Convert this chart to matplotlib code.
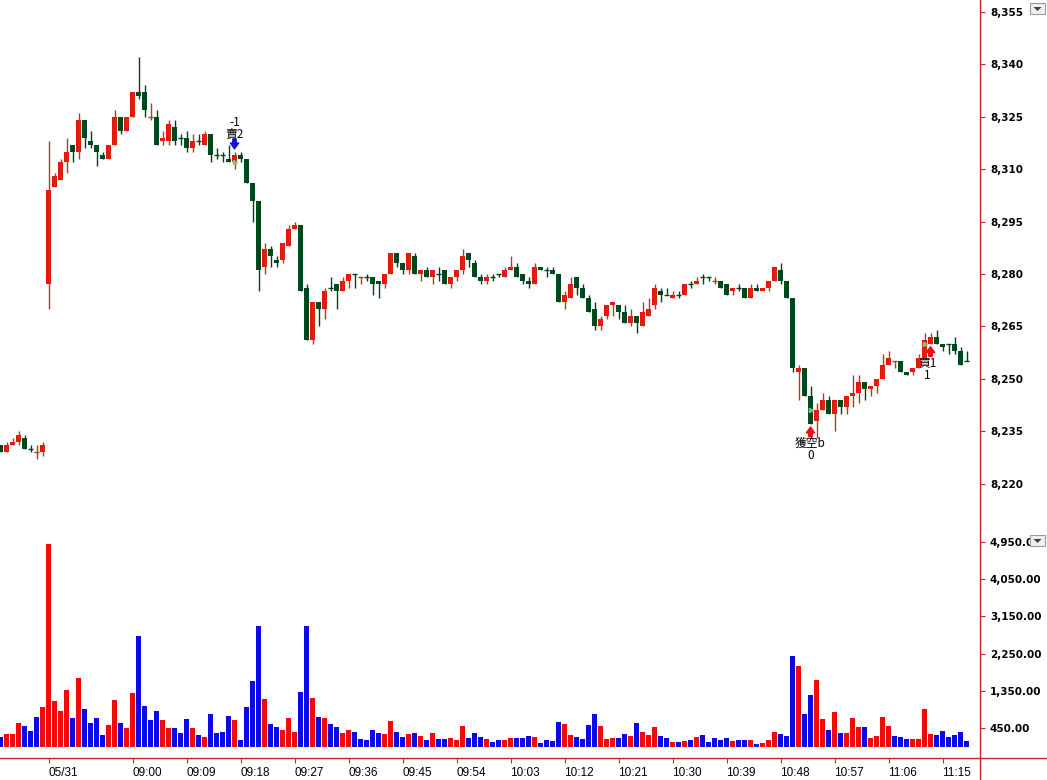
import matplotlib
matplotlib.use("Agg")
import matplotlib.pyplot as plt
from matplotlib.lines import Line2D
from matplotlib.patches import Rectangle, Polygon
import numpy as np

# 1-minute bars: last 8 bars of 05/30, then 05/31 from 08:46
opens = [8231, 8229, 8231, 8232, 8233, 8230, 8229, 8229,
         8277, 8305, 8307, 8312, 8317, 8315, 8324, 8318, 8317, 8314,
         8313, 8317, 8325, 8321, 8325, 8332, 8332, 8325, 8325, 8318,
         8318, 8322, 8319, 8319, 8316, 8318, 8317, 8320, 8314, 8314,
         8313, 8312, 8314, 8313, 8306, 8301, 8282, 8287, 8284, 8284,
         8288, 8293, 8294, 8276, 8261, 8272, 8270, 8276, 8277, 8275,
         8278, 8280, 8279, 8279, 8279, 8278, 8277, 8280, 8286, 8283,
         8281, 8285, 8280, 8281, 8279, 8280, 8281, 8277, 8279, 8281,
         8286, 8283, 8279, 8278, 8279, 8280, 8279, 8281, 8282, 8280,
         8278, 8277, 8282, 8281, 8281, 8280, 8272, 8273, 8279, 8276,
         8273, 8270, 8265, 8268, 8271, 8271, 8269, 8266, 8268, 8265,
         8268, 8271, 8275, 8274, 8273, 8274, 8274, 8277, 8277, 8279,
         8279, 8278, 8278, 8277, 8275, 8276, 8276, 8273, 8276, 8275,
         8276, 8278, 8281, 8278, 8273, 8252, 8253, 8245, 8238, 8241,
         8244, 8240, 8244, 8242, 8245, 8246, 8249, 8247, 8248, 8250,
         8254, 8255, 8255, 8252, 8252, 8253, 8256, 8260, 8262, 8260,
         8260, 8260, 8258, 8255]
highs = [8231, 8232, 8233, 8235, 8234, 8231, 8231, 8232,
         8318, 8309, 8313, 8319, 8317, 8326, 8324, 8321, 8317, 8315,
         8317, 8327, 8325, 8325, 8332, 8342, 8334, 8329, 8327, 8321,
         8324, 8324, 8320, 8321, 8320, 8320, 8321, 8320, 8316, 8315,
         8317, 8315, 8315, 8313, 8306, 8301, 8289, 8288, 8285, 8289,
         8294, 8295, 8294, 8277, 8272, 8272, 8276, 8279, 8277, 8279,
         8280, 8280, 8279, 8280, 8279, 8278, 8280, 8286, 8286, 8283,
         8286, 8286, 8281, 8282, 8281, 8282, 8281, 8279, 8281, 8287,
         8286, 8284, 8280, 8280, 8280, 8280, 8282, 8285, 8283, 8280,
         8279, 8283, 8282, 8282, 8282, 8280, 8275, 8279, 8279, 8277,
         8274, 8272, 8268, 8271, 8272, 8271, 8271, 8270, 8268, 8272,
         8273, 8277, 8276, 8276, 8275, 8275, 8277, 8278, 8279, 8280,
         8279, 8279, 8278, 8277, 8276, 8277, 8276, 8277, 8277, 8276,
         8278, 8282, 8283, 8278, 8273, 8254, 8253, 8248, 8243, 8246,
         8245, 8244, 8244, 8245, 8251, 8251, 8249, 8248, 8250, 8257,
         8258, 8255, 8255, 8252, 8253, 8257, 8263, 8263, 8264, 8260,
         8260, 8262, 8259, 8258]
lows = [8229, 8229, 8231, 8231, 8230, 8229, 8227, 8228,
        8270, 8305, 8307, 8309, 8312, 8313, 8316, 8316, 8311, 8313,
        8313, 8317, 8320, 8321, 8325, 8330, 8325, 8324, 8317, 8317,
        8317, 8317, 8317, 8315, 8315, 8317, 8317, 8312, 8313, 8312,
        8312, 8310, 8312, 8306, 8295, 8275, 8280, 8282, 8282, 8283,
        8288, 8293, 8275, 8261, 8260, 8265, 8267, 8275, 8270, 8275,
        8276, 8276, 8277, 8278, 8274, 8273, 8276, 8280, 8282, 8280,
        8280, 8280, 8278, 8279, 8277, 8278, 8277, 8276, 8278, 8280,
        8282, 8279, 8277, 8277, 8278, 8279, 8279, 8281, 8279, 8277,
        8276, 8277, 8281, 8279, 8280, 8272, 8270, 8273, 8274, 8273,
        8269, 8264, 8264, 8267, 8268, 8267, 8266, 8265, 8263, 8265,
        8268, 8270, 8272, 8274, 8273, 8273, 8274, 8276, 8277, 8277,
        8278, 8277, 8276, 8274, 8274, 8275, 8273, 8273, 8275, 8275,
        8275, 8278, 8277, 8273, 8252, 8244, 8245, 8237, 8233, 8241,
        8240, 8235, 8240, 8240, 8242, 8243, 8244, 8245, 8246, 8250,
        8254, 8253, 8252, 8251, 8251, 8253, 8256, 8260, 8260, 8258,
        8257, 8257, 8254, 8255]
closes = [8229, 8231, 8232, 8234, 8230, 8230, 8229, 8231,
          8304, 8308, 8312, 8315, 8315, 8324, 8319, 8317, 8315, 8313,
          8317, 8325, 8321, 8325, 8332, 8331, 8327, 8325, 8317, 8319,
          8323, 8318, 8319, 8316, 8318, 8318, 8320, 8314, 8314, 8314,
          8312, 8314, 8313, 8306, 8301, 8281, 8287, 8285, 8283, 8289,
          8293, 8294, 8275, 8261, 8272, 8270, 8275, 8276, 8275, 8278,
          8280, 8280, 8279, 8279, 8277, 8277, 8280, 8286, 8283, 8281,
          8286, 8280, 8281, 8279, 8281, 8280, 8277, 8279, 8281, 8285,
          8284, 8279, 8278, 8279, 8279, 8280, 8281, 8282, 8279, 8278,
          8277, 8282, 8281, 8281, 8280, 8272, 8274, 8277, 8276, 8273,
          8269, 8265, 8267, 8271, 8272, 8269, 8266, 8268, 8266, 8269,
          8270, 8276, 8274, 8274, 8274, 8274, 8277, 8277, 8278, 8279,
          8279, 8278, 8276, 8274, 8276, 8276, 8273, 8276, 8275, 8276,
          8278, 8282, 8278, 8273, 8253, 8253, 8245, 8237, 8241, 8244,
          8240, 8244, 8242, 8245, 8246, 8249, 8247, 8248, 8250, 8254,
          8256, 8255, 8252, 8251, 8253, 8256, 8261, 8262, 8260, 8259,
          8260, 8258, 8254, 8255]
volumes = [232, 305, 305, 571, 498, 377, 716, 958,
           4901, 1103, 861, 1369, 692, 1659, 910, 571, 692, 281,
           523, 1127, 571, 450, 1297, 2675, 982, 643, 861, 643,
           450, 450, 329, 667, 450, 281, 232, 788, 329, 353,
           740, 643, 167, 958, 1587, 2917, 1151, 547, 474, 401,
           692, 353, 1321, 2917, 1176, 716, 692, 547, 474, 329,
           401, 353, 184, 160, 401, 329, 305, 619, 353, 232,
           305, 329, 257, 160, 329, 184, 184, 208, 160, 498,
           208, 329, 232, 184, 111, 160, 160, 208, 208, 208,
           257, 232, 87, 160, 135, 595, 547, 281, 232, 184,
           523, 788, 498, 184, 208, 208, 305, 257, 571, 353,
           281, 474, 257, 208, 111, 111, 135, 160, 232, 281,
           111, 208, 160, 208, 135, 160, 160, 160, 63, 87,
           160, 353, 305, 257, 2192, 1950, 788, 1248, 1611, 667,
           401, 837, 329, 329, 692, 474, 474, 208, 257, 716,
           498, 257, 232, 184, 184, 184, 909, 305, 281, 377,
           232, 281, 353, 135]
# flat bars that the platform paints red
red_doji = [6, 25, 60, 119, 149]

tick_labels = ["05/31", "09:00", "09:09", "09:18", "09:27", "09:36", "09:45",
               "09:54", "10:03", "10:12", "10:21", "10:30", "10:39", "10:48",
               "10:57", "11:06", "11:15"]
price_ticks = [8220, 8235, 8250, 8265, 8280, 8295, 8310, 8325, 8340, 8355]
vol_ticks = [450, 1350, 2250, 3150, 4050, 4950]

# trade signals: (bar, above/below, label, position)
signals = [(39, "sell", "賣2", "-1"), (135, "buy", "獲空b", "0"), (155, "buy", "買1", "1")]
fills = [(39, 8312), (135, 8241), (154, 8260)]

# bar times
prev_day = ["13:%02d" % m for m in range(38, 46)]
today = []
h, m = 8, 46
for _ in range(len(opens) - len(prev_day)):
    today.append("%02d:%02d" % (h, m))
    m += 1
    if m == 60:
        h, m = h + 1, 0
bar_times = prev_day + today

W, H = 1047, 780
AXIS_RED = "#c0282d"
UP, DOWN = "#e8150e", "#004b1e"
UP_WICK, DOWN_WICK = "#a8401e", "#00401a"
VOL_UP, VOL_DOWN = "#f00a0a", "#0a0ae6"

fig = plt.figure(figsize=(W / 100, H / 100), dpi=100)
ax = fig.add_axes([0, 1 - 528 / H, 980 / W, 528 / H])
axv = fig.add_axes([0, 1 - 758 / H, 980 / W, 228 / H], sharex=ax)

n = len(opens)
xs = np.arange(n)
o = np.array(opens); c = np.array(closes)
hi = np.array(highs); lo = np.array(lows)
is_up = c > o
flat = c == o

body_col = [UP if (u or (f and i in red_doji)) else DOWN for i, (u, f) in enumerate(zip(is_up, flat))]
wick_col = [UP_WICK if (u or (f and i in red_doji)) else DOWN_WICK for i, (u, f) in enumerate(zip(is_up, flat))]

bw = 5 / 6
ax.vlines(xs, lo, hi, colors=wick_col, linewidth=1.0)
nf = ~flat
ax.bar(xs[nf], np.abs(c - o)[nf], bottom=np.minimum(o, c)[nf], width=bw,
       color=[body_col[i] for i in xs[nf]], linewidth=0)
ax.hlines(c[flat], xs[flat] - bw / 2, xs[flat] + bw / 2,
          colors=[wick_col[i] for i in xs[flat]], linewidth=1.0)

# trade fills
for k, p in fills:
    ax.plot(k, p, marker=">", markersize=3, color="#7cc47c", linestyle="none")

cjk = ["Noto Sans CJK TC", "DejaVu Sans"]
arrow_style = "simple,head_length=0.6,head_width=0.85,tail_width=0.35"
for k, side, label, pos in signals:
    if side == "sell":
        tip = hi[k] + 0.8
        ax.annotate("", xy=(k, tip), xytext=(0, 7), textcoords="offset points",
                    arrowprops=dict(arrowstyle=arrow_style, color="#1010e0",
                                    mutation_scale=7, shrinkA=0, shrinkB=0))
        ax.annotate(label, xy=(k, hi[k]), xytext=(0, 12.8), textcoords="offset points",
                    ha="center", va="center", fontsize=8.5, family=cjk)
        ax.annotate(pos, xy=(k, hi[k]), xytext=(0, 20.8), textcoords="offset points",
                    ha="center", va="center", fontsize=8.5, family=cjk)
    else:
        tip = lo[k] - 0.8
        dx = -2 if label == "買1" else 0
        ax.annotate("", xy=(k, tip), xytext=(0, -7), textcoords="offset points",
                    arrowprops=dict(arrowstyle=arrow_style, color="#e81010",
                                    mutation_scale=7, shrinkA=0, shrinkB=0))
        ax.annotate(label, xy=(k, lo[k]), xytext=(dx, -13.8), textcoords="offset points",
                    ha="center", va="center", fontsize=8.5, family=cjk)
        ax.annotate(pos, xy=(k, lo[k]), xytext=(dx, -22.8), textcoords="offset points",
                    ha="center", va="center", fontsize=8.5, family=cjk)

ax.set_xlim(-0.5 / 6, 979.5 / 6)
ax.set_ylim(8207.3, 8358.4)

# volume
vcol = [VOL_UP if u else VOL_DOWN for u in is_up]
axv.bar(xs, volumes, width=bw, color=vcol, linewidth=0)
axv.set_ylim(-276, 5240)

for a in (ax, axv):
    for s in a.spines.values():
        s.set_visible(False)
    a.yaxis.tick_right()
    a.tick_params(axis="y", direction="out", length=3.6, width=0.8, color=AXIS_RED,
                  pad=3.6, labelsize=7.5, labelcolor="black")

ax.set_yticks(price_ticks)
ax.set_yticklabels(["{:,}".format(p) for p in price_ticks], fontweight="bold")
axv.set_yticks(vol_ticks)
axv.set_yticklabels(["{:,.2f}".format(v) for v in vol_ticks], fontweight="bold")

tick_pos = [len(prev_day)] + [bar_times.index(t, len(prev_day)) for t in tick_labels[1:]]
ax.tick_params(axis="x", bottom=False, labelbottom=False)
axv.set_xticks(tick_pos)
axv.set_xticklabels(tick_labels, ha="left", family=["Liberation Sans", "DejaVu Sans"])
axv.tick_params(axis="x", direction="out", length=3.6, width=0.8, color=AXIS_RED,
                pad=3.0, labelsize=8.5, labelcolor="black")

# frame lines
fig.add_artist(Line2D([980 / W, 980 / W], [0, 1], transform=fig.transFigure,
                      color=AXIS_RED, linewidth=1.0))
fig.add_artist(Line2D([0, 1], [1 - 758 / H, 1 - 758 / H], transform=fig.transFigure,
                      color=AXIS_RED, linewidth=1.0))

# panel menu buttons
for top in (3, 535):
    x0, y0 = 1030 / W, 1 - (top + 11) / H
    fig.add_artist(Rectangle((x0, y0), 15 / W, 11 / H, transform=fig.transFigure,
                             facecolor="#f0f0f0", edgecolor="#9a9a9a", linewidth=0.8))
    fig.add_artist(Polygon([[1033.5 / W, 1 - (top + 4) / H], [1041.5 / W, 1 - (top + 4) / H],
                            [1037.5 / W, 1 - (top + 8) / H]], closed=True,
                           transform=fig.transFigure, facecolor="#404040", edgecolor="none"))

fig.savefig("out.png", dpi=100, facecolor="white")
